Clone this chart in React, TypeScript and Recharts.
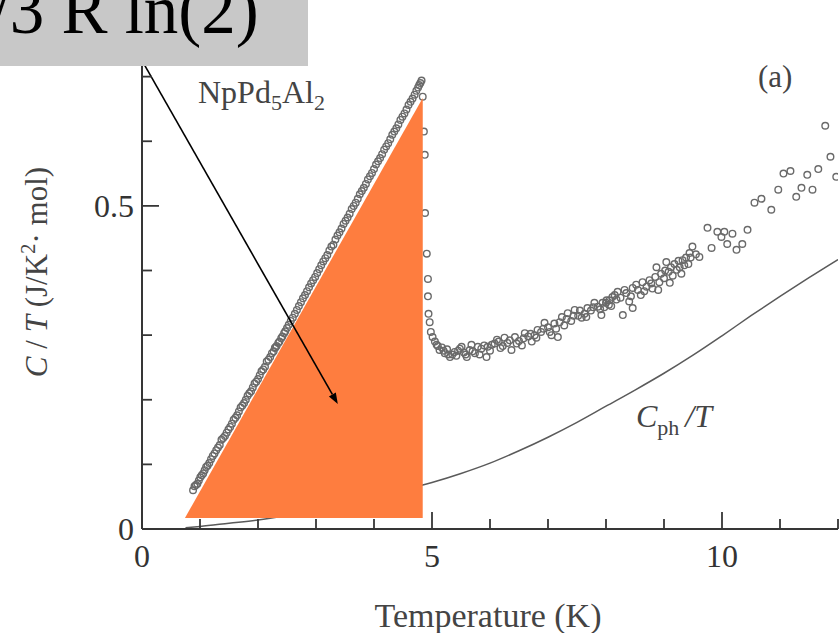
import {
  ComposedChart,
  Scatter,
  Line,
  XAxis,
  YAxis,
  ReferenceArea,
  ReferenceLine,
} from "recharts";

// axis ticks
const X_TICKS = [0, 1, 2, 3, 4, 5, 6, 7, 8, 9, 10, 11, 12];
const X_MAJOR = [0, 5, 10];
const Y_TICKS = [0, 0.1, 0.2, 0.3, 0.4, 0.5, 0.6, 0.7, 0.8];
const Y_MAJOR = [0, 0.5];

const MEAS_T = [
  0.88, 0.93, 0.98, 1.03, 1.08, 1.13, 1.19, 1.25, 1.31, 1.37, 1.43, 1.49, 1.55, 1.61, 1.67,
  1.73, 1.79, 1.85, 1.91, 1.97, 2.03, 2.09, 2.15, 2.21, 2.27, 2.3, 2.32, 2.35, 2.37, 2.42,
  2.47, 2.53, 2.6, 2.67, 2.74, 2.81, 2.88, 2.95, 3.02, 3.09, 3.16, 3.23, 3.3, 3.37, 3.44,
  3.51, 3.58, 3.65, 3.72, 3.79, 3.86, 3.93, 4.0, 4.07, 4.14, 4.21, 4.28, 4.35, 4.42, 4.49,
  4.56, 4.63, 4.7, 4.76, 4.8, 4.82, 4.84, 4.86, 4.875, 4.88, 4.91, 4.93, 4.93, 4.94, 4.96,
  4.98, 5.01, 5.05, 5.08, 5.13, 5.17, 5.22, 5.26, 5.31, 5.35, 5.39, 5.45, 5.51, 5.55, 5.6,
  5.65, 5.68, 5.74, 5.79, 5.85, 5.94, 5.96, 6.03, 6.12, 6.18, 6.25, 6.3, 6.37, 6.43, 6.5,
  6.55, 6.6, 6.66, 6.72, 6.77, 6.82, 6.88, 6.94, 7.0, 7.06, 7.11, 7.17, 7.24, 7.28, 7.34,
  7.4, 7.46, 7.52, 7.58, 7.63, 7.68, 7.74, 7.8, 7.86, 7.92, 7.94, 7.97, 8.01, 8.05, 8.06,
  8.11, 8.15, 8.2, 8.25, 8.29, 8.35, 8.4, 8.46, 8.46, 8.55, 8.6, 8.63, 8.7, 8.75, 8.8,
  8.85, 8.87, 8.92, 8.95, 9.0, 9.04, 9.08, 9.1, 9.15, 9.18, 9.22, 9.27, 9.3, 9.32, 9.38,
  9.42, 9.44, 9.49, 9.55, 9.61, 9.75, 9.82, 9.92, 9.99, 10.04, 10.09, 10.18, 10.25, 10.35,
  10.44, 10.56, 10.68, 10.85, 10.97, 11.06, 11.18, 11.28, 11.37, 11.47, 11.56, 11.66,
  11.78, 11.87, 11.97,
];
const MEAS_C = [
  0.06, 0.068, 0.075, 0.083, 0.091, 0.098, 0.108, 0.117, 0.126, 0.138, 0.144, 0.154, 0.163,
  0.172, 0.182, 0.191, 0.2, 0.21, 0.219, 0.228, 0.238, 0.247, 0.259, 0.266, 0.275, 0.281,
  0.283, 0.288, 0.29, 0.298, 0.306, 0.316, 0.327, 0.339, 0.351, 0.362, 0.374, 0.385, 0.396,
  0.408, 0.419, 0.431, 0.44, 0.454, 0.465, 0.477, 0.488, 0.5, 0.511, 0.523, 0.534, 0.546,
  0.557, 0.569, 0.58, 0.592, 0.603, 0.615, 0.626, 0.638, 0.649, 0.661, 0.672, 0.683, 0.69,
  0.694, 0.669, 0.615, 0.579, 0.489, 0.426, 0.387, 0.36, 0.333, 0.32, 0.305, 0.297, 0.29,
  0.285, 0.277, 0.281, 0.272, 0.278, 0.266, 0.27, 0.274, 0.276, 0.282, 0.273, 0.266, 0.277,
  0.285, 0.272, 0.282, 0.279, 0.266, 0.282, 0.285, 0.293, 0.28, 0.296, 0.288, 0.277, 0.297,
  0.291, 0.284, 0.303, 0.298, 0.29, 0.3, 0.308, 0.305, 0.319, 0.312, 0.3, 0.318, 0.297,
  0.328, 0.315, 0.334, 0.322, 0.339, 0.33, 0.327, 0.333, 0.342, 0.338, 0.35, 0.344, 0.331,
  0.35, 0.343, 0.354, 0.347, 0.354, 0.359, 0.362, 0.367, 0.358, 0.331, 0.365, 0.352, 0.342,
  0.373, 0.37, 0.362, 0.382, 0.375, 0.385, 0.372, 0.39, 0.405, 0.382, 0.395, 0.388, 0.413,
  0.398, 0.381, 0.392, 0.41, 0.401, 0.405, 0.395, 0.416, 0.42, 0.41, 0.427, 0.437, 0.425,
  0.421, 0.466, 0.435, 0.46, 0.452, 0.46, 0.441, 0.457, 0.432, 0.441, 0.463, 0.505, 0.511,
  0.494, 0.525, 0.55, 0.554, 0.514, 0.528, 0.548, 0.525, 0.557, 0.624, 0.576, 0.545,
];

// second pass of measured points (the data is very dense below 9.5 K)
const MEAS2_T = [
  0.905, 0.955, 1.005, 1.055, 1.105, 1.16, 1.22, 1.28, 1.34, 1.4, 1.46, 1.52, 1.58, 1.64,
  1.7, 1.76, 1.82, 1.88, 1.94, 2.0, 2.06, 2.12, 2.18, 2.24, 2.29, 2.4, 2.45, 2.5, 2.565,
  2.635, 2.705, 2.775, 2.845, 2.915, 2.985, 3.055, 3.125, 3.195, 3.265, 3.335, 3.405, 3.475,
  3.545, 3.615, 3.685, 3.755, 3.825, 3.895, 3.965, 4.035, 4.105, 4.175, 4.245, 4.315, 4.385,
  4.455, 4.525, 4.595, 4.665, 4.73, 4.78, 5.1, 5.2, 5.28, 5.42, 5.48, 5.58, 5.7, 5.82, 5.9,
  6.0, 6.08, 6.15, 6.22, 6.34, 6.46, 6.58, 6.7, 6.8, 6.92, 7.03, 7.14, 7.2, 7.32, 7.44,
  7.55, 7.66, 7.78, 7.9, 8.0, 8.09, 8.18, 8.32, 8.43, 8.52, 8.66, 8.78, 8.9, 9.02, 9.12,
  9.25, 9.35, 9.46,
];
const MEAS2_C = [
  0.066, 0.07, 0.08, 0.086, 0.096, 0.102, 0.113, 0.122, 0.13, 0.141, 0.149, 0.158, 0.169,
  0.176, 0.188, 0.195, 0.206, 0.213, 0.225, 0.232, 0.244, 0.251, 0.262, 0.272, 0.28, 0.295,
  0.303, 0.311, 0.322, 0.333, 0.345, 0.357, 0.368, 0.38, 0.39, 0.402, 0.414, 0.424, 0.437,
  0.448, 0.459, 0.472, 0.482, 0.495, 0.505, 0.518, 0.528, 0.541, 0.551, 0.564, 0.574, 0.587,
  0.597, 0.61, 0.62, 0.633, 0.643, 0.656, 0.666, 0.678, 0.687, 0.283, 0.276, 0.27, 0.268,
  0.279, 0.27, 0.275, 0.27, 0.284, 0.276, 0.287, 0.29, 0.283, 0.292, 0.287, 0.295, 0.302,
  0.296, 0.31, 0.305, 0.31, 0.32, 0.325, 0.33, 0.338, 0.328, 0.343, 0.34, 0.35, 0.345,
  0.355, 0.37, 0.36, 0.378, 0.368, 0.38, 0.37, 0.4, 0.405, 0.415, 0.408, 0.42,
];

// phonon contribution C_ph/T
const PH_T = [0.75, 1, 1.5, 2, 2.5, 3, 3.5, 4, 4.5, 5, 5.5, 6, 6.5, 7, 7.5, 8, 8.5, 9, 9.5, 10, 10.5, 11, 11.5, 12];
const PH_C = [
  0.002, 0.004, 0.009, 0.014, 0.021, 0.029, 0.039, 0.049, 0.06, 0.072, 0.086, 0.102, 0.121,
  0.142, 0.165, 0.19, 0.215, 0.241, 0.269, 0.299, 0.33, 0.36, 0.389, 0.417,
];

// entropy triangle and arrow annotation
const TRI_T = [0.74, 4.84];
const TRI_C = [0.017, 0.667];
const ARROW_T = [0.03, 3.376];
const ARROW_C = [0.72, 0.1935];

const measured = [
  ...MEAS_T.map((t, i) => ({ T: t, v: MEAS_C[i] })),
  ...MEAS2_T.map((t, i) => ({ T: t, v: MEAS2_C[i] })),
];
const phonon = PH_T.map((t, i) => ({ T: t, v: PH_C[i] }));

const SERIF = "'Liberation Serif', 'Times New Roman', serif";
const AXIS = "#363636";
const TEXT = "#333";
const ORANGE = "#fe7d3f";

function BottomTick(props: any) {
  const { x, y, payload } = props;
  const major = X_MAJOR.includes(payload.value);
  return (
    <g>
      <line x1={x} x2={x} y1={y} y2={y - (major ? 17 : 10)} stroke={AXIS} strokeWidth={1.8} />
      {major && (
        <text x={x} y={y + 38} textAnchor="middle" fontSize={32} fill={TEXT} fontFamily={SERIF}>
          {payload.value}
        </text>
      )}
    </g>
  );
}

function TopTick(props: any) {
  const { x, y, payload } = props;
  const major = X_MAJOR.includes(payload.value);
  return <line x1={x} x2={x} y1={y} y2={y + (major ? 17 : 10)} stroke={AXIS} strokeWidth={1.8} />;
}

function LeftTick(props: any) {
  const { x, y, payload } = props;
  const major = Y_MAJOR.includes(payload.value);
  return (
    <g>
      <line x1={x} x2={x + (major ? 17 : 10)} y1={y} y2={y} stroke={AXIS} strokeWidth={1.8} />
      {major && (
        <text x={x - 8} y={y + 11} textAnchor="end" fontSize={32} fill={TEXT} fontFamily={SERIF}>
          {payload.value}
        </text>
      )}
    </g>
  );
}

function RightTick(props: any) {
  const { x, y, payload } = props;
  const major = Y_MAJOR.includes(payload.value);
  return <line x1={x} x2={x - (major ? 17 : 10)} y1={y} y2={y} stroke={AXIS} strokeWidth={1.8} />;
}

const Dot = (p: any) => (
  <circle cx={p.cx} cy={p.cy} r={3.3} fill="none" stroke="#6a6a6a" strokeWidth={1.4} />
);

const Triangle = (p: any) => {
  const { x, y, width, height } = p;
  return (
    <polygon
      points={`${x},${y + height} ${x + width},${y} ${x + width},${y + height}`}
      fill={ORANGE}
      stroke="none"
    />
  );
};

const Arrow = (p: any) => {
  const { x1, y1, x2, y2 } = p;
  const a = Math.atan2(y2 - y1, x2 - x1);
  const len = 11;
  const w = 4;
  const bx = x2 - len * Math.cos(a);
  const by = y2 - len * Math.sin(a);
  const pts = `${x2},${y2} ${bx + w * Math.sin(a)},${by - w * Math.cos(a)} ${bx - w * Math.sin(a)},${by + w * Math.cos(a)}`;
  return (
    <g>
      <line x1={x1} y1={y1} x2={bx} y2={by} stroke="#000" strokeWidth={1.6} />
      <polygon points={pts} fill="#000" />
    </g>
  );
};

export default function App() {
  return (
    <div style={{ position: "absolute", left: 0, top: 0, width: 839, height: 633, background: "#fff" }}>
      <ComposedChart width={839} height={633} margin={{ top: 12, right: 1, bottom: 0, left: 0 }}>
        <XAxis
          dataKey="T"
          type="number"
          domain={[0, 12]}
          ticks={X_TICKS}
          interval={0}
          height={104}
          tickSize={0}
          tickMargin={0}
          tickLine={false}
          tick={<BottomTick />}
          axisLine={{ stroke: AXIS, strokeWidth: 2 }}
          allowDataOverflow
        />
        <XAxis
          xAxisId="top"
          orientation="top"
          type="number"
          domain={[0, 12]}
          ticks={X_TICKS}
          interval={0}
          height={0}
          tickSize={0}
          tickMargin={0}
          tickLine={false}
          tick={<TopTick />}
          axisLine={{ stroke: AXIS, strokeWidth: 2 }}
          allowDataOverflow
        />
        <YAxis
          dataKey="v"
          type="number"
          domain={[0, 0.8]}
          ticks={Y_TICKS}
          interval={0}
          width={142}
          tickSize={0}
          tickMargin={0}
          tickLine={false}
          tick={<LeftTick />}
          axisLine={{ stroke: AXIS, strokeWidth: 2 }}
          allowDataOverflow
        />
        <YAxis
          yAxisId="right"
          orientation="right"
          type="number"
          domain={[0, 0.8]}
          ticks={Y_TICKS}
          interval={0}
          width={0}
          tickSize={0}
          tickMargin={0}
          tickLine={false}
          tick={<RightTick />}
          axisLine={{ stroke: AXIS, strokeWidth: 2 }}
          allowDataOverflow
        />
        <Scatter data={measured} dataKey="v" shape={Dot} isAnimationActive={false} />
        <Line
          data={phonon}
          dataKey="v"
          type="monotone"
          stroke="#5a5a5a"
          strokeWidth={1.5}
          dot={false}
          activeDot={false}
          isAnimationActive={false}
        />
        <ReferenceArea
          x1={TRI_T[0]}
          x2={TRI_T[1]}
          y1={TRI_C[0]}
          y2={TRI_C[1]}
          shape={Triangle}
          zIndex={650}
        />
        <ReferenceLine
          segment={[
            { x: ARROW_T[0], y: ARROW_C[0] },
            { x: ARROW_T[1], y: ARROW_C[1] },
          ]}
          shape={Arrow}
          zIndex={700}
        />
      </ComposedChart>
      <svg
        width={839}
        height={633}
        style={{ position: "absolute", left: 0, top: 0, pointerEvents: "none", overflow: "hidden" }}
        fontFamily={SERIF}
      >
        <text x={198} y={103} fontSize={32} fill="#444">
          NpPd<tspan dy={7} fontSize={22}>5</tspan>
          <tspan dy={-7}>Al</tspan>
          <tspan dy={7} fontSize={22}>2</tspan>
        </text>
        <text x={758} y={87} fontSize={31} fill="#444">
          (a)
        </text>
        <text x={636} y={427} fontSize={32} fill="#444">
          <tspan fontStyle="italic">C</tspan>
          <tspan dy={8} fontSize={22}>ph</tspan>
          <tspan dy={-8} dx={6} fontStyle="italic">/T</tspan>
        </text>
        <text x={488} y={627} textAnchor="middle" fontSize={34} fill="#444">
          Temperature (K)
        </text>
        <text transform="translate(47,272) rotate(-90)" textAnchor="middle" fontSize={31} fill="#444">
          <tspan fontStyle="italic">C</tspan> / <tspan fontStyle="italic">T</tspan> (J/K
          <tspan dy={-12} fontSize={21}>2</tspan>
          <tspan dy={12}>· mol)</tspan>
        </text>
        <rect x={0} y={0} width={308} height={66} fill="#c8c8c8" />
        <text x={-44} y={33} fontSize={69} fill="#000">
          1/3 R ln(2)
        </text>
      </svg>
    </div>
  );
}
